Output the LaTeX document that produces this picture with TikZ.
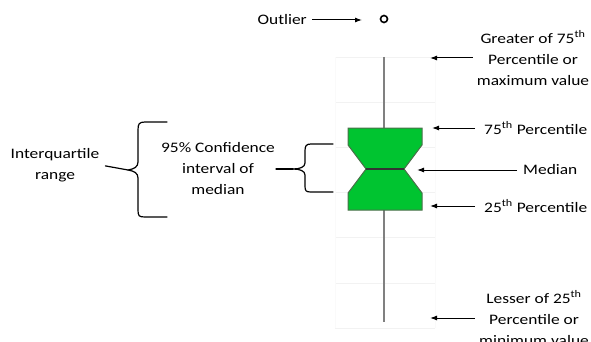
\documentclass[tikz,border=0pt]{standalone}
\usepackage{fontspec}
\setmainfont{Carlito}[FakeStretch=1.2]
\usetikzlibrary{arrows.meta}

\definecolor{notchgreen}{RGB}{0,196,48}
\definecolor{notchedge}{RGB}{74,112,74}
\definecolor{whiskergray}{RGB}{128,128,128}

\begin{document}
\begin{tikzpicture}[
  x=1pt, y=-1pt,
  font=\fontsize{14.5}{21}\selectfont,
  every node/.style={inner sep=1pt},
  txt/.style={align=center},
  arr/.style={-{Latex[length=7pt,width=5pt]}, line width=1pt},
  brace/.style={line width=1.2pt, line join=round, line cap=round},
  gridln/.style={draw=black!5, line width=0.8pt},
  whisker/.style={draw=whiskergray, line width=1.8pt},
  notchbox/.style={draw=notchedge, line width=1pt, fill=notchgreen},
  medline/.style={draw=black!80, line width=1.6pt},
]
\useasboundingbox (0,0) rectangle (591,342);

% ── Plot area and whisker column ───────────────────────────────────
\def\xL{335}
\def\xR{435}
\def\xW{384}

% faint gridlines of the plot area
\foreach \gy in {57,102.2,147.3,192.5,237.7,283,328}
  \draw[gridln] (\xL,\gy) -- (\xR,\gy);
\draw[draw=black!2, line width=0.6pt] (\xL,57) -- (\xL,328);
\draw[draw=black!2, line width=0.6pt] (\xR,57) -- (\xR,328);

% whisker, drawn first so the box sits on top
\coordinate (wTop) at (\xW,57);
\coordinate (wBot) at (\xW,322);
\draw[whisker] (wTop) -- (wBot);

% ── Notched box ────────────────────────────────────────────────────
\draw[notchbox] (348,128) -- (422,128) -- (422,145) -- (404,169)
  -- (422,193) -- (422,210) -- (348,210) -- (348,193) -- (366,169)
  -- (348,145) -- cycle;
\coordinate (medL) at (366,169);
\coordinate (medR) at (404,169);
\draw[medline] (medL) -- (medR);

% outlier
\node[draw=black, line width=1.6pt, circle, minimum size=7pt, inner sep=0pt]
  (outpt) at (\xW,19) {};

% ── Arrow targets ──────────────────────────────────────────────────
\coordinate (cOut) at (362,20);
\coordinate (cMax) at (430,58);
\coordinate (cQ3)  at (432,128);
\coordinate (cMed) at (417,170);
\coordinate (cQ1)  at (430,206);
\coordinate (cMin) at (430,318);

% ── Labels on the right ────────────────────────────────────────────
\node[anchor=east] (outlier) at (308,20) {Outlier};
\node[txt] (gmax) at (533,58)
  {Greater of 75\textsuperscript{th}\\Percentile or\\maximum value};
\node[anchor=west] (q3)  at (483,128) {75\textsuperscript{th} Percentile};
\node[anchor=west] (med) at (522,170) {Median};
\node[anchor=west] (q1)  at (483,206) {25\textsuperscript{th} Percentile};
\node[txt] (lmin) at (534,318)
  {Lesser of 25\textsuperscript{th}\\Percentile or\\minimum value};

\draw[arr, shorten <=4pt] (outlier.east) -- (cOut);
\draw[arr, shorten <=3pt] (gmax.west)    -- (cMax);
\draw[arr, shorten <=8pt] (q3.west)      -- (cQ3);
\draw[arr, shorten <=5pt] (med.west)     -- (cMed);
\draw[arr, shorten <=8pt] (q1.west)      -- (cQ1);
\draw[arr, shorten <=3pt] (lmin.west)    -- (cMin);

% ── Labels on the left, with their braces ──────────────────────────
\node[txt] (ci)  at (218,169) {95\% Confidence\\interval of\\median};
\node[txt] (iqr) at (55,165)  {Interquartile\\range};

% small brace spans the notch
\coordinate (ciTip) at (293,169);
\draw[brace] (333,144) -- (311,144) .. controls (306,144) and (305,146) .. (305,151)
  -- (305,163) .. controls (305,167) and (300,169) .. (ciTip)
  .. controls (300,169) and (305,171) .. (305,175)
  -- (305,186) .. controls (305,191) and (306,192) .. (311,192) -- (333,192);
\draw[brace] (ci.east) -- (ciTip);

% large brace spans the box
\coordinate (iqrTip) at (128,170);
\draw[brace] (167,122) -- (145,122) .. controls (139,122) and (138,124) .. (138,130)
  -- (138,162) .. controls (138,167) and (134,169) .. (iqrTip)
  .. controls (134,171) and (138,173) .. (138,178)
  -- (138,210) .. controls (138,216) and (139,217) .. (145,217) -- (167,217);
\draw[brace, shorten <=5pt] (iqr.east) -- (iqrTip);
\end{tikzpicture}
\end{document}
